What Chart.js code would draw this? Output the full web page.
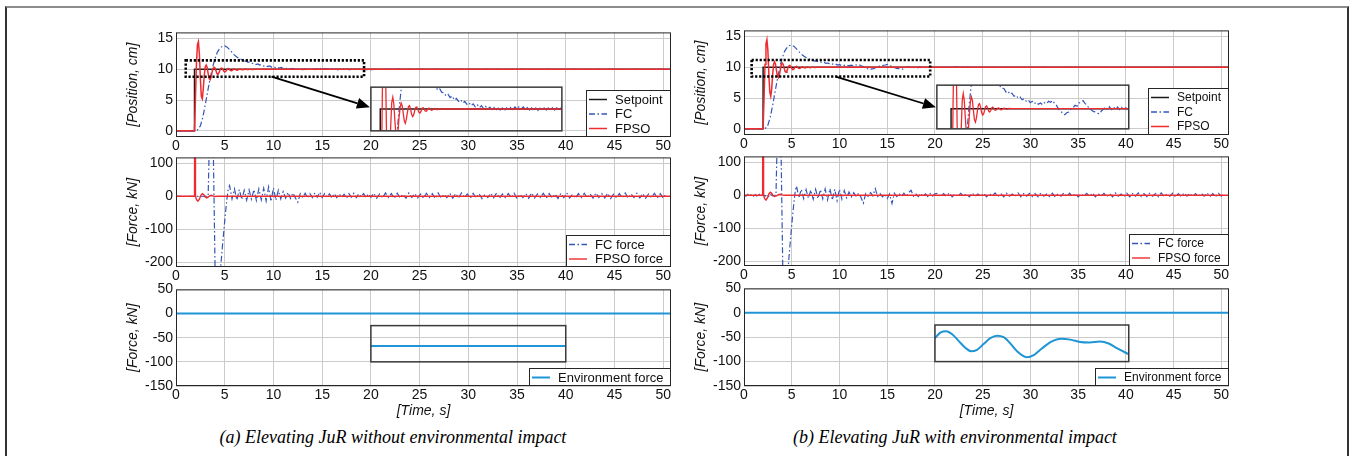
<!DOCTYPE html>
<html><head><meta charset="utf-8">
<script src="https://cdn.jsdelivr.net/npm/chart.js@4.4.1/dist/chart.umd.min.js"></script>
<style>
html,body{margin:0;padding:0;background:#fff}
body{width:1355px;height:456px;overflow:hidden;position:relative}
#frame{position:absolute;left:5px;top:6px;width:1344px;height:480px;box-sizing:border-box;border:2px solid #333;border-top-color:#8c8c8c}
canvas{position:absolute}
.cap{position:absolute;top:426px;font-family:"Liberation Serif","Times New Roman",serif;font-style:italic;font-size:18px;line-height:22px;white-space:nowrap;transform:translateX(-50%);color:#000}
</style></head>
<body>
<div id="frame"></div>
<div class="cap" style="left:393px">(a) Elevating JuR without environmental impact</div>
<div class="cap" style="left:955px">(b) Elevating JuR with environmental impact</div>
<script>
// ---------------- ticks ----------------
const X_TICKS = [0,5,10,15,20,25,30,35,40,45,50];
const X_MAX = 50.8;
const POS_TICKS = [0,5,10,15];
const FORCE_TICKS = [-200,-150,-100,-50,0,50,100];
const FORCE_LABELS = [-200,-100,0,100];
const ENV_TICKS = [-150,-100,-50,0,50];

// ---------------- (a) without environmental impact ----------------
const setpointA_t = [0, 1.9, 1.9, 50.8];
const setpointA_v = [0, 0, 10, 10];
// FPSO position, every 0.1 s from 1.9 s
const fpsoPosA = [0,5.5,11.0,14.0,14.5,12.5,8.5,5.6,5.2,6.8,9.0,10.4,10.7,10.3,9.3,8.5,8.3,8.7,9.5,10.1,10.35,10.2,9.75,9.3,9.15,9.4,9.8,10.15,10.2,10.0,9.7,9.55,9.65,9.9,10.1,10.12,9.98,9.8,9.76,9.86,10.03,10.08,10.0,9.88,9.86,9.94,10.04,10.05,9.98,9.92,9.94,10.0,10.03,10.01,9.97,9.96,9.99,10.02,10.01,9.99,10.0];
// FC position, every 0.25 s from 2.0 s, then every 0.2 s from 7.2 s
const fcRiseA = [0,0.2,0.8,2.2,4.2,6.4,8.5,10.3,11.7,12.8,13.4,13.75,13.8,13.6,13.2,12.75,12.3,12.0,11.75,11.55,11.35];
const fcSettleA = [11.34,11.13,11.2,10.99,10.97,10.78,10.87,10.68,10.77,10.53,10.63,10.45,10.55,10.36,10.45,10.28,10.38,10.2,10.31,10.13,10.25,10.08,10.2,10.03,10.15,9.99,10.11,9.96,10.09,9.93,10.06,9.93,10.07,9.92,10.07,9.94,10.1,9.97,10.13,9.99,10.14,10.0,10.12,9.98,10.09,9.94,10.07,9.92,10.06,9.91,10.05,9.92,10.06,9.93,10.07,9.93,10.08,9.94,10.07,9.94,10.06,9.95];
// forces
const fcForceA_t = [0,3.3,3.45,3.6,3.75,3.85,3.95,4.05,4.25,4.45,4.6,4.8,5.0,5.2,5.35];
const fcForceA_v = [0,0,200,500,300,100,-100,-300,-500,-300,-210,-140,-75,-15,20];
const fcForceOscA = [32,-8,22,-12,20,-10,18,-12,19,-9,20,-13,22,-11,24,-14,28,-16,25,-12,18,-8,14,-6,12,-7,10,-5,-18,8,-4,9,-5,8,-4,10,-3,12,-4,8,-3,7,-5,8,-4,7,-3,6,-6,8,-3,9,-4,7,-2,8,-4,7,-3];
// every 0.3 s from 20.3 s
const fcForceTailA = [9,-6,7,-5,10,-4,8,-7,9,-5,6,-6,10,-4,8,-5,7,-6,9,-4,8,-7,10,-5,6,-4,9,-6,8,-5,10,-4,7,-6,9,-5,8,-7,6,-4,9,-5,10,-6,7,-4,8,-5,9,-7,6,-4,8,-6,10,-5,7,-4,9,-6,8,-5,7,-7,9,-4,10,-5,6,-6,8,-4,9,-5,7,-6,10,-4,8,-5,9,-7,6,-4,8,-5,10,-6,7,-4,9,-5,8,-6,7,-4,9,-5,8,-6,7];
const fpsoForceA_t = [0,1.9,1.95,2.0,2.1,2.25,2.4,2.55,2.7,2.85,3.0,3.15,3.3,3.45,3.6,3.8,4.0,4.3,50.8];
const fpsoForceA_v = [0,0,900,0,-10,-15,-9,3,8,5,-2,-5,-3,1,3,1,-1,0,0];
const envA_t = [0, 50.8];
const envA_v = [0, 0];
const envInsetA_t = [20, 40];
const envInsetA_v = [-67, -67];

// ---------------- (b) with environmental impact ----------------
const setpointB_t = [0, 2.0, 2.0, 50.8];
const setpointB_v = [0, 0, 10, 10];
const fpsoPosB = [0,5.0,10.5,13.8,14.5,12.8,9.0,6.0,5.3,6.5,8.8,10.5,10.9,10.5,9.5,8.6,8.3,8.7,9.6,10.4,10.7,10.5,9.9,9.35,9.2,9.45,9.9,10.25,10.3,10.1,9.8,9.62,9.68,9.9,10.12,10.16,10.04,9.86,9.8,9.88,10.04,10.09,10.03,9.92,9.9,9.96,10.04,10.05,9.99,9.94,9.95,10.0,10.03,10.02,9.98,9.97,9.99,10.01,10.01,10.0];
const fcRiseB = [0,0.1,0.6,1.9,3.8,6.0,8.1,10.0,11.5,12.6,13.2,13.55,13.6,13.4,13.0,12.55,12.15,11.85,11.6,11.4,11.22];
const fcSettleB = [11.2,11.0,11.05,10.86,10.92,10.74,10.8,10.63,10.7,10.53,10.6,10.44,10.52,10.36,10.44,10.3,10.38,10.26,10.34,10.24,10.36,10.3,10.44,10.38,10.48,10.3,10.18,9.96,9.86,9.72,9.64,9.76,9.8,9.98,10.04,10.2,10.14,10.34,10.38,10.48,10.3,10.22,10.0,9.94,9.84,9.8,9.72,9.7,9.86,9.96,10.1,9.95,10.12,9.95,10.1,9.93,10.1,9.95,10.08,9.95,10.06,9.97];
const fcForcePreB = [2,-3,3,-2,4,-3,2,-4,3,-2,3,-3,2,-4,3,-2,0];
const fcForceB_t = [3.35,3.5,3.65,3.8,3.9,4.0,4.1,4.3,4.5,4.65,4.85,5.05,5.25,5.4];
const fcForceB_v = [0,200,500,300,100,-100,-300,-500,-300,-210,-140,-75,-15,18];
const fcForceOscB = [28,-8,18,-10,17,-9,16,-12,18,-10,17,-11,19,-14,20,-15,18,-16,18,-12,14,-8,10,-5,8,-4,6,-6,-24,5,-3,8,-2,20,-4,5,-5,3,-10,4,-25,6,-4,5,-3,6,-4,8,15,-3,4,-4,5,-3,4,-4,5,-3,4];
const fcForceTailB = [6,-4,5,-3,7,-5,4,-4,6,-3,5,-5,7,-3,4,-4,6,-5,5,-3,7,-4,5,-5,6,-3,4,-4,7,-5,5,-3,6,-4,5,-5,7,-3,4,-4,6,-5,5,-3,7,-4,6,-4,5,-5,4,-3,6,-4,7,-5,5,-3,6,-4,5,-5,7,-3,4,-4,6,-5,5,-3,7,-4,5,-4,6,-3,5,-5,7,-4,4,-3,6,-5,5,-4,7,-3,6,-4,5,-5,6,-3,7,-4,5,-4,6,-3,5];
const fpsoForceB_t = [0,1.95,2.0,2.05,2.15,2.3,2.45,2.6,2.75,2.9,3.05,3.2,3.4,3.6,3.8,4.0,4.3,50.8];
const fpsoForceB_v = [0,0,900,0,-10,-15,-8,4,9,6,-1,-4,-2,2,3,1,0,0];
const envB_t = [0, 50.8];
const envB_v = [0, 0];
const envInsetB_t = [20,20.6,21.2,21.8,22.5,23.2,23.8,24.4,25.1,25.8,26.5,27.2,27.9,28.6,29.6,30.4,31.2,32.2,33.2,34.2,35.2,36.2,37.3,38.2,39.2,40.3];
const envInsetB_v = [-52,-40,-38,-44,-58,-72,-79,-76,-64,-52,-47,-50,-63,-79,-91,-86,-73,-59,-53,-55,-60,-61,-59,-63,-74,-85];

// zoom annotations (data units)
const DOT_RECT_A = [1.0, 19.3, 8.8, 11.45];
const ARROW_A = [9.8, 8.8, 19.9, 3.85];
const INSET_POS_A = {box:[20.0, 39.6, 0, 7.1], src:[1.0, 19.3, 8.7, 11.3]};
const INSET_ENV_A = [20, 40, -100, -25];
const DOT_RECT_B = [0.8, 19.5, 8.5, 11.2];
const ARROW_B = [9.6, 8.5, 20.1, 3.5];
const INSET_POS_B = {box:[20.2, 40.3, 0, 7.1], src:[0.6, 19.5, 8.8, 11.4]};
const INSET_ENV_B = [20, 40.3, -100, -25];

// ---------------- helpers ----------------
function seg(t0, dt, vals){ return vals.map((v,i)=>({x: Math.round((t0+i*dt)*1000)/1000, y: v})); }
function pairs(ts, vs){ return ts.map((t,i)=>({x:t, y:vs[i]})); }
function cp(a){ return a.map(p=>({x:p.x,y:p.y})); }

const RED='#ef2b2f', FCBLUE='#3456b8', ENVBLUE='#1f95d5', BLACK='#1a1a1a', GRID='#cbcbcb';
const FONT='"Liberation Sans", Arial, sans-serif';
const FC_DASH=[6,2.5,1.5,2.5];

function L(data, color, width, dash, extra){
  return Object.assign({data, borderColor:color, backgroundColor:color, borderWidth:width,
    borderDash:dash||[], pointRadius:0, pointHoverRadius:0, fill:false, tension:0}, extra||{});
}

const GEO = {
  a:{left:176, right:671, rows:[[31,137],[156,267],[288,386]], legendFont:13},
  b:{left:744, right:1229, rows:[[29,135],[155,266],[287,386]], legendFont:12}
};
const AXW=60, PADT=10, PADR=16, BOTH=[20,20,38];

const deco = {
  id:'deco',
  beforeDatasetDraw(chart, args){
    const ds = chart.data.datasets[args.index];
    if (ds.clipBox){
      const xs=chart.scales.x, ys=chart.scales.y, b=ds.clipBox;
      const x0=xs.getPixelForValue(b[0]), x1=xs.getPixelForValue(b[1]);
      const y0=ys.getPixelForValue(b[3]), y1=ys.getPixelForValue(b[2]);
      chart.ctx.save(); chart.ctx.beginPath(); chart.ctx.rect(x0,y0,x1-x0,y1-y0); chart.ctx.clip();
    }
  },
  afterDatasetDraw(chart, args){
    const ds = chart.data.datasets[args.index];
    if (ds.clipBox) chart.ctx.restore();
  },
  afterDatasetsDraw(chart, args, o){
    const ctx=chart.ctx, ca=chart.chartArea, xs=chart.scales.x, ys=chart.scales.y;
    const px=v=>xs.getPixelForValue(v), py=v=>ys.getPixelForValue(v);
    ctx.save();
    ctx.setLineDash([]);
    ctx.strokeStyle='#262626'; ctx.lineWidth=1;
    ctx.strokeRect(ca.left+0.5, ca.top+0.5, ca.width-1, ca.height-1);
    (o.boxes||[]).forEach(b=>{
      ctx.strokeStyle='#3a3a3a'; ctx.lineWidth=1.5; ctx.setLineDash([]);
      ctx.strokeRect(px(b[0]), py(b[3]), px(b[1])-px(b[0]), py(b[2])-py(b[3]));
    });
    (o.dotted||[]).forEach(b=>{
      ctx.strokeStyle='#000'; ctx.lineWidth=2.6; ctx.setLineDash([2.2,1.8]);
      ctx.strokeRect(px(b[0]), py(b[3]), px(b[1])-px(b[0]), py(b[2])-py(b[3]));
    });
    ctx.setLineDash([]);
    (o.arrows||[]).forEach(a=>{
      const x0=px(a[0]), y0=py(a[1]), x1=px(a[2]), y1=py(a[3]);
      const ang=Math.atan2(y1-y0,x1-x0), hl=13, hw=5.5;
      const bx=x1-hl*Math.cos(ang), by=y1-hl*Math.sin(ang);
      ctx.strokeStyle='#000'; ctx.fillStyle='#000'; ctx.lineWidth=1.8;
      ctx.beginPath(); ctx.moveTo(x0,y0); ctx.lineTo(bx,by); ctx.stroke();
      ctx.beginPath(); ctx.moveTo(x1,y1);
      ctx.lineTo(bx+hw*Math.sin(ang), by-hw*Math.cos(ang));
      ctx.lineTo(bx-hw*Math.sin(ang), by+hw*Math.cos(ang));
      ctx.closePath(); ctx.fill();
    });
    // legend
    const ents = chart.data.datasets.filter(d=>d.legendLabel);
    if (ents.length){
      const fs=o.legendFont||13;
      ctx.font = fs+'px '+FONT;
      const tw=Math.max(...ents.map(e=>ctx.measureText(e.legendLabel).width));
      const w=3+18+8+tw+8, rh=14.5, h=18+(ents.length-1)*rh;
      const x1=Math.round(ca.right), y1=Math.round(ca.bottom);
      const x0=Math.round(x1-w), y0=Math.round(y1-h);
      ctx.fillStyle='#fff'; ctx.fillRect(x0,y0,x1-x0,y1-y0);
      ctx.strokeStyle='#262626'; ctx.lineWidth=1;
      ctx.strokeRect(x0+0.5,y0+0.5,x1-x0-1,y1-y0-1);
      ents.forEach((e,i)=>{
        const cy=y0+9.5+i*rh;
        ctx.strokeStyle=e.borderColor; ctx.lineWidth=Math.max(1.3,e.borderWidth);
        ctx.setLineDash(e.borderDash||[]);
        ctx.beginPath(); ctx.moveTo(x0+3,cy); ctx.lineTo(x0+21,cy); ctx.stroke();
        ctx.setLineDash([]);
        ctx.fillStyle='#111'; ctx.textBaseline='middle'; ctx.textAlign='left';
        ctx.fillText(e.legendLabel, x0+29, cy+0.5);
      });
    }
    ctx.restore();
  }
};

function makeChart(pk, ri, spec){
  const g=GEO[pk]; const top=g.rows[ri][0], bot=g.rows[ri][1];
  const cv=document.createElement('canvas');
  const W=AXW+(g.right-g.left)+PADR, H=PADT+(bot-top)+BOTH[ri];
  cv.width=W; cv.height=H;
  cv.style.left=(g.left-AXW)+'px'; cv.style.top=(top-PADT)+'px';
  cv.style.width=W+'px'; cv.style.height=H+'px';
  document.body.appendChild(cv);
  const scales={
    x:{type:'linear', min:0, max:X_MAX,
      afterBuildTicks:s=>{s.ticks=X_TICKS.map(v=>({value:v}));},
      afterFit:s=>{s.height=BOTH[ri];},
      grid:{color:GRID, lineWidth:1, drawTicks:false}, border:{display:false},
      ticks:{autoSkip:false, maxRotation:0, padding:1, color:'#111', font:{family:FONT,size:14}},
      title:{display:!!spec.xTitle, text:spec.xTitle||'', color:'#111', font:{family:FONT,size:14,style:'italic'}, padding:{top:0,bottom:4.6}}},
    y:{type:'linear', min:spec.yMin, max:spec.yMax,
      afterBuildTicks:s=>{s.ticks=spec.yTicks.map(v=>({value:v}));},
      afterFit:s=>{s.width=AXW;},
      grid:{color:GRID, lineWidth:1, drawTicks:false}, border:{display:false},
      ticks:{padding:3, color:'#111', font:{family:FONT,size:14}, callback:v=>spec.yLabels.includes(v)?String(v):''},
      title:{display:true, text:spec.yTitle, color:'#111', font:{family:FONT,size:14,style:'italic'}, padding:{top:8.6,bottom:0}}}
  };
  if (spec.inset){
    const ins=spec.inset;
    const kx=(ins.src[1]-ins.src[0])/(ins.box[1]-ins.box[0]);
    const ky=(ins.src[3]-ins.src[2])/(ins.box[3]-ins.box[2]);
    scales.xi={type:'linear', display:false, min:ins.src[0]-ins.box[0]*kx, max:ins.src[0]+(X_MAX-ins.box[0])*kx};
    scales.yi={type:'linear', display:false, min:ins.src[2]-(ins.box[2]-spec.yMin)*ky, max:ins.src[2]+(spec.yMax-ins.box[2])*ky};
  }
  new Chart(cv, {type:'line', data:{datasets:spec.datasets},
    options:{responsive:false, animation:false, devicePixelRatio:1, events:[],
      layout:{padding:{left:0, top:PADT, right:PADR, bottom:0}},
      scales,
      plugins:{legend:{display:false}, tooltip:{enabled:false},
        deco:{legendFont:g.legendFont, boxes:spec.boxes||[], dotted:spec.dotted||[], arrows:spec.arrows||[]}}},
    plugins:[deco]});
}

function positionRow(pk, setT, setV, fpsoStart, fpsoVals, fcRise, fcSettle, dotted, arrow, inset){
  const sp = pairs(setT, setV);
  const fpso = [{x:0,y:0}].concat(seg(fpsoStart,0.1,fpsoVals), pairs([9,20,35,50.8],[10,10,10,10]));
  const fc = [{x:0,y:0}].concat(seg(2.0,0.25,fcRise), seg(7.2,0.2,fcSettle), pairs([22,30,40,50.8],[10.02,9.99,10.01,10]));
  const ib = inset.box;
  makeChart(pk, 0, {yMin:-1, yMax:16, yTicks:POS_TICKS, yLabels:POS_TICKS, yTitle:'[Position, cm]',
    inset, boxes:[[ib[0],ib[1],ib[2],ib[3]]], dotted:[dotted], arrows:[arrow],
    datasets:[
      L(sp, BLACK, 1.5, null, {legendLabel:'Setpoint', order:3}),
      L(fc, FCBLUE, 1.2, FC_DASH, {legendLabel:'FC', order:2}),
      L(fpso, RED, 1.5, null, {legendLabel:'FPSO', order:1}),
      L(cp(sp), BLACK, 1.5, null, {xAxisID:'xi', yAxisID:'yi', clipBox:ib, order:6}),
      L(cp(fc), FCBLUE, 1.2, FC_DASH, {xAxisID:'xi', yAxisID:'yi', clipBox:ib, order:5}),
      L(cp(fpso), RED, 1.3, null, {xAxisID:'xi', yAxisID:'yi', clipBox:ib, order:4})
    ]});
}

function forceRow(pk, fcParts, fpsoT, fpsoV){
  makeChart(pk, 1, {yMin:-215, yMax:118, yTicks:FORCE_TICKS, yLabels:FORCE_LABELS, yTitle:'[Force, kN]',
    datasets:[
      L(fcParts, FCBLUE, 1.2, FC_DASH, {legendLabel:'FC force', order:2}),
      L(pairs(fpsoT,fpsoV), RED, 1.4, null, {legendLabel:'FPSO force', order:1})
    ]});
}

function envRow(pk, t, v, it, iv, box, smooth){
  makeChart(pk, 2, {yMin:-150, yMax:50, yTicks:ENV_TICKS, yLabels:ENV_TICKS, yTitle:'[Force, kN]', xTitle:'[Time, s]',
    boxes:[box],
    datasets:[
      L(pairs(t,v), ENVBLUE, 2, null, {legendLabel:'Environment force', order:1}),
      L(pairs(it,iv), ENVBLUE, 2, null, {clipBox:box, order:2, tension:smooth?0.4:0, cubicInterpolationMode:smooth?'monotone':'default'})
    ]});
}

// (a)
positionRow('a', setpointA_t, setpointA_v, 1.9, fpsoPosA, fcRiseA, fcSettleA, DOT_RECT_A, ARROW_A, INSET_POS_A);
forceRow('a', pairs(fcForceA_t, fcForceA_v).concat(seg(5.5,0.25,fcForceOscA), seg(20.3,0.3,fcForceTailA)), fpsoForceA_t, fpsoForceA_v);
envRow('a', envA_t, envA_v, envInsetA_t, envInsetA_v, INSET_ENV_A, false);
// (b)
positionRow('b', setpointB_t, setpointB_v, 2.0, fpsoPosB, fcRiseB, fcSettleB, DOT_RECT_B, ARROW_B, INSET_POS_B);
forceRow('b', seg(0,0.2,fcForcePreB).concat(pairs(fcForceB_t, fcForceB_v), seg(5.5,0.25,fcForceOscB), seg(20.3,0.3,fcForceTailB)), fpsoForceB_t, fpsoForceB_v);
envRow('b', envB_t, envB_v, envInsetB_t, envInsetB_v, INSET_ENV_B, true);
</script>
</body></html>
